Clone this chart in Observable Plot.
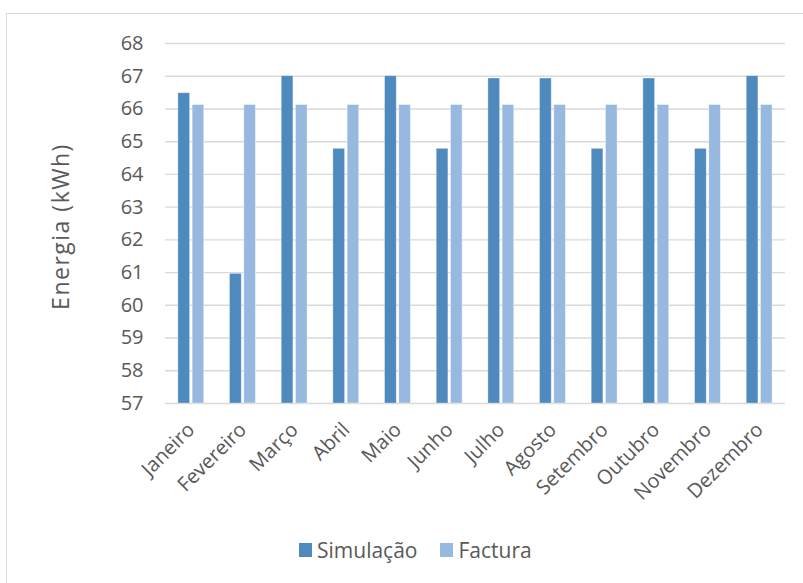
<!DOCTYPE html>
<html>
<head>
<meta charset="utf-8">
<script src="https://cdn.jsdelivr.net/npm/d3@7"></script>
<script src="https://cdn.jsdelivr.net/npm/@observablehq/plot@0.6"></script>
<style>
  html, body { margin: 0; padding: 0; background: #fff; overflow: hidden; }
  #wrap { position: relative; width: 803px; height: 583px; overflow: hidden; font-family: "Open Sans", sans-serif; }
  #frame { position: absolute; left: 6px; top: 13px; width: 900px; height: 700px; border: 1px solid #d9d9d9; box-sizing: border-box; }
  #chart { position: absolute; left: 0; top: 0; }
  #chart svg g[aria-label="text"] text { letter-spacing: 1.5px; }
  #legend { position: absolute; left: 299px; top: 536px; display: flex; align-items: center; font-size: 21px; color: #595959; }
  .key { display: inline-block; width: 13px; height: 14px; margin-right: 5px; }
  .item { display: flex; align-items: center; margin-right: 23px; }
</style>
</head>
<body>
<div id="wrap">
  <div id="frame"></div>
  <div id="chart"></div>
  <div id="legend"></div>
</div>
<script>
// Monthly energy: simulated vs. billed (kWh)
const months = ["Janeiro", "Fevereiro", "Março", "Abril", "Maio", "Junho",
                "Julho", "Agosto", "Setembro", "Outubro", "Novembro", "Dezembro"];
const simulacao = [66.48, 60.96, 67.0, 64.78, 67.0, 64.78, 66.93, 66.93, 64.78, 66.93, 64.78, 67.0];
const factura = [66.12, 66.12, 66.12, 66.12, 66.12, 66.12, 66.12, 66.12, 66.12, 66.12, 66.12, 66.12];
const series = ["Simulação", "Factura"];
const colors = ["#4f8abe", "#97b9e0"];
const yTicks = [57, 58, 59, 60, 61, 62, 63, 64, 65, 66, 67, 68];
const yTitle = "Energia (kWh)";

const rows = months.map((m, i) => ({month: m, sim: simulacao[i], fac: factura[i]}));
const base = yTicks[0];

const chart = Plot.plot({
  width: 803,
  height: 530,
  marginTop: 43,
  marginBottom: 127,
  marginLeft: 165,
  marginRight: 18,
  style: {fontFamily: "'Open Sans', sans-serif", color: "#595959", background: "transparent"},
  x: {domain: months, paddingInner: 0.5, paddingOuter: 0.25, round: false},
  y: {domain: [yTicks[0], yTicks[yTicks.length - 1]]},
  marks: [
    Plot.gridY(yTicks, {stroke: "#d9d9d9", strokeOpacity: 1, strokeWidth: 1.4}),
    Plot.barY(rows, {x: "month", y1: base, y2: "sim", fill: colors[0], insetRight: 14.2,
                     stroke: "#ffffff", strokeOpacity: 0.35, strokeWidth: 0.8}),
    Plot.barY(rows, {x: "month", y1: base, y2: "fac", fill: colors[1], insetLeft: 14.2,
                     stroke: "#ffffff", strokeOpacity: 0.5, strokeWidth: 0.8}),
    Plot.axisY(yTicks, {tickSize: 0, tickPadding: 22, fontSize: 20, label: null}),
    // vertical axis title
    Plot.text([yTitle], {text: d => d, frameAnchor: "left", rotate: -90, textAnchor: "middle",
                         lineAnchor: "bottom", dx: -97, dy: 3, fontSize: 23, fill: "#595959"}),
    Plot.axisX({tickSize: 0, tickRotate: -45, fontSize: 20, label: null, tickPadding: 10, dx: 0, dy: 13})
  ]
});
document.getElementById("chart").appendChild(chart);

// legend below the plot
const legend = document.getElementById("legend");
series.forEach((s, i) => {
  const item = document.createElement("span");
  item.className = "item";
  const key = document.createElement("span");
  key.className = "key";
  key.style.background = colors[i];
  item.appendChild(key);
  item.appendChild(document.createTextNode(s));
  legend.appendChild(item);
});
</script>
</body>
</html>
